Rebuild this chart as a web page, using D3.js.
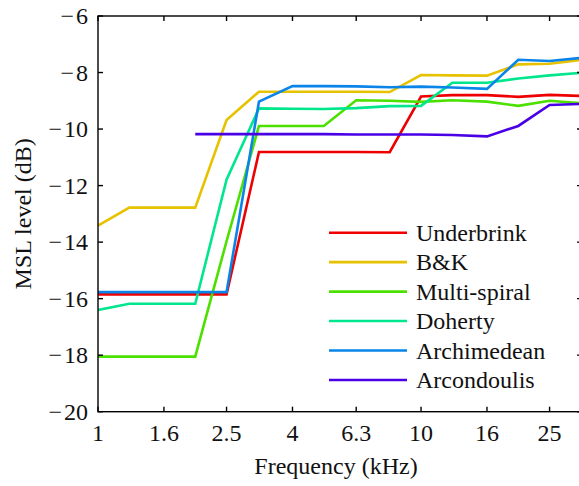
<!DOCTYPE html>
<html>
<head>
<meta charset="utf-8">
<script src="https://cdn.jsdelivr.net/npm/d3@7"></script>
<style>
  html, body { margin: 0; padding: 0; background: #fff; }
  svg { display: block; }
  text { font-family: "Liberation Serif", "Times New Roman", serif; fill: #111; }
</style>
</head>
<body>
<svg id="chart" width="579" height="486"></svg>
<script>
const width = 579;
const height = 486;

// third-octave band centres (kHz)
const freqs = [1, 1.25, 1.6, 2, 2.5, 3.15, 4, 5, 6.3, 8, 10, 12.5, 16, 20, 25, 31.5];

const underbrink  = [-15.85, -15.85, -15.85, -15.85, -15.85, -10.81, -10.81, -10.81, -10.81, -10.82, -8.85, -8.80, -8.80, -8.86, -8.79, -8.83];
const bk          = [-13.42, -12.78, -12.78, -12.78, -9.68, -8.68, -8.68, -8.68, -8.68, -8.69, -8.09, -8.10, -8.11, -7.71, -7.69, -7.55];
const multiSpiral = [-18.05, -18.05, -18.05, -18.05, -13.97, -9.89, -9.89, -9.89, -8.98, -9.00, -9.04, -8.98, -9.03, -9.18, -9.00, -9.09];
const doherty     = [-16.40, -16.18, -16.18, -16.18, -11.79, -9.27, -9.28, -9.29, -9.26, -9.19, -9.18, -8.36, -8.36, -8.21, -8.10, -8.01];
const archimedean = [-15.77, -15.77, -15.77, -15.77, -15.77, -9.03, -8.48, -8.48, -8.49, -8.52, -8.50, -8.53, -8.58, -7.55, -7.59, -7.48];
const arcondoulis = [null, null, null, -10.18, -10.18, -10.18, -10.18, -10.18, -10.19, -10.19, -10.19, -10.21, -10.26, -9.89, -9.15, -9.11];

const seriesNames  = ["Underbrink", "B&K", "Multi-spiral", "Doherty", "Archimedean", "Arcondoulis"];
const seriesValues = [underbrink, bk, multiSpiral, doherty, archimedean, arcondoulis];
const colors = ["#ee0000", "#e6c200", "#4ce000", "#00e68c", "#0a84e8", "#4a00e6"];

const xTicks = [1, 1.6, 2.5, 4, 6.3, 10, 16, 25];
const yTicks = [-20, -18, -16, -14, -12, -10, -8, -6];

const margin = { left: 98, right: 582, top: 16, bottom: 411.7 };

const svg = d3.select("#chart");

const x = d3.scaleLog().domain([1, 31.5]).range([margin.left, margin.right]);
const y = d3.scaleLinear().domain([-20, -6]).range([margin.bottom, margin.top]);

const fontSize = 24;
const tickLen = 5;

// lines
const line = d3.line()
    .defined(d => d[1] !== null)
    .x(d => x(d[0]))
    .y(d => y(d[1]));

const plot = svg.append("g");
seriesValues.forEach((vals, i) => {
    plot.append("path")
        .datum(freqs.map((f, j) => [f, vals[j]]))
        .attr("d", line)
        .attr("fill", "none")
        .attr("stroke", colors[i])
        .attr("stroke-width", 2.6)
        .attr("stroke-linejoin", "miter");
});

// frame
svg.append("rect")
    .attr("x", margin.left)
    .attr("y", margin.top)
    .attr("width", margin.right - margin.left)
    .attr("height", margin.bottom - margin.top)
    .attr("fill", "none")
    .attr("stroke", "#000")
    .attr("stroke-width", 1.4);

// ticks (inward, all four sides)
const ticks = svg.append("g").attr("stroke", "#000").attr("stroke-width", 1.4);
xTicks.forEach(t => {
    ticks.append("line").attr("x1", x(t)).attr("x2", x(t)).attr("y1", margin.bottom).attr("y2", margin.bottom - tickLen);
    ticks.append("line").attr("x1", x(t)).attr("x2", x(t)).attr("y1", margin.top).attr("y2", margin.top + tickLen);
});
yTicks.forEach(t => {
    ticks.append("line").attr("x1", margin.left).attr("x2", margin.left + tickLen).attr("y1", y(t)).attr("y2", y(t));
    ticks.append("line").attr("x1", margin.right).attr("x2", margin.right - tickLen).attr("y1", y(t)).attr("y2", y(t));
});

// tick labels
svg.append("g").selectAll("text")
    .data(xTicks)
    .enter()
    .append("text")
    .attr("x", d => x(d))
    .attr("y", 441)
    .attr("text-anchor", "middle")
    .attr("font-size", fontSize)
    .text(d => d);

const yLabels = svg.append("g").selectAll("text")
    .data(yTicks)
    .enter()
    .append("text")
    .attr("x", 88)
    .attr("y", d => y(d) + 8)
    .attr("text-anchor", "end")
    .attr("font-size", fontSize);
yLabels.append("tspan").text("\u2212");
yLabels.append("tspan").attr("dx", 2).text(d => Math.abs(d));

// axis titles
svg.append("text")
    .attr("x", 336)
    .attr("y", 474)
    .attr("text-anchor", "middle")
    .attr("font-size", fontSize)
    .text("Frequency (kHz)");

svg.append("text")
    .attr("transform", `translate(31, ${(margin.top + margin.bottom) / 2}) rotate(-90)`)
    .attr("text-anchor", "middle")
    .attr("font-size", fontSize)
    .text("MSL level (dB)");

// legend
const legend = svg.append("g");
seriesNames.forEach((name, i) => {
    const ly = 232.7 + i * 29.45;
    legend.append("line")
        .attr("x1", 329).attr("x2", 407)
        .attr("y1", ly).attr("y2", ly)
        .attr("stroke", colors[i])
        .attr("stroke-width", 2.6);
    legend.append("text")
        .attr("x", 416)
        .attr("y", ly + 8)
        .attr("font-size", fontSize)
        .text(name);
});
</script>
</body>
</html>
